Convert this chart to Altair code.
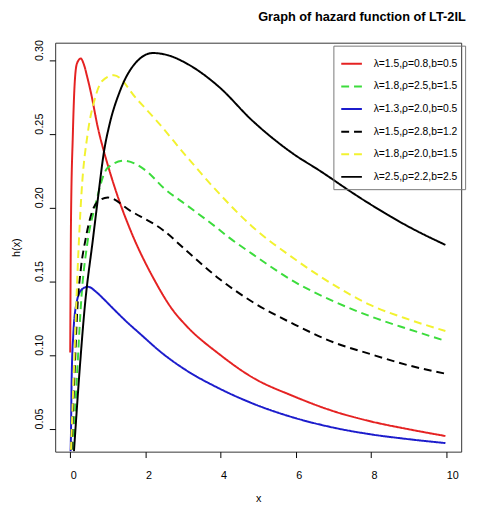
import altair as alt
import pandas as pd

labels = [
    "λ=1.5,ρ=0.8,b=0.5",
    "λ=1.8,ρ=2.5,b=1.5",
    "λ=1.3,ρ=2.0,b=0.5",
    "λ=1.5,ρ=2.8,b=1.2",
    "λ=1.8,ρ=2.0,b=1.5",
    "λ=2.5,ρ=2.2,b=2.5",
]
colors = ["#E52222", "#3CDC3C", "#1C1CCC", "#000000", "#F2F230", "#000000"]
dashes = [[1, 0], [8, 5], [1, 0], [8, 5], [8, 5], [1, 0]]

red_x = [0.0, 0.02, 0.07, 0.12, 0.18, 0.28, 0.36, 0.45, 0.56, 0.73, 0.91, 1.0, 1.26, 1.6, 2.22, 2.72, 3.09, 3.96, 4.83, 5.97, 7.02, 7.98, 9.02, 9.98]
red_y = [0.102, 0.19, 0.25, 0.285, 0.298, 0.3013, 0.2975, 0.289, 0.277, 0.255, 0.237, 0.229, 0.208, 0.185, 0.152, 0.131, 0.12, 0.1009, 0.0853, 0.072, 0.062, 0.0553, 0.0498, 0.0453]

green_x = [0.08, 0.19, 0.3, 0.45, 0.67, 0.99, 1.43, 2.04, 2.48, 3.09, 3.96, 4.22, 4.83, 5.97, 7.02, 7.98, 9.02, 9.98]
green_y = [0.036, 0.091, 0.14, 0.175, 0.202, 0.227, 0.232, 0.2247, 0.2136, 0.202, 0.1853, 0.18, 0.169, 0.1498, 0.1365, 0.1265, 0.1176, 0.1098]

blue_x = [0.01, 0.02, 0.035, 0.08, 0.17, 0.3, 0.47, 0.7, 0.89, 1.15, 1.5, 1.85, 2.46, 3.09, 3.96, 4.83, 5.97, 7.02, 7.98, 9.02, 9.98]
blue_y = [0.035, 0.047, 0.08, 0.1135, 0.1358, 0.1445, 0.1465, 0.1428, 0.1382, 0.1315, 0.1228, 0.1148, 0.1012, 0.0898, 0.0776, 0.0676, 0.0576, 0.0509, 0.0465, 0.0431, 0.0405]

bdash_x = [0.035, 0.12, 0.19, 0.28, 0.41, 0.5, 0.71, 1.0, 1.6, 2.48, 3.09, 3.96, 4.83, 5.97, 7.02, 7.98, 9.02, 9.98]
bdash_y = [0.036, 0.091, 0.132, 0.158, 0.179, 0.19, 0.2036, 0.207, 0.198, 0.1847, 0.171, 0.152, 0.1365, 0.1209, 0.1087, 0.1009, 0.0931, 0.0876]

yellow_x = [0.02, 0.1, 0.2, 0.3, 0.47, 0.65, 0.85, 1.16, 1.78, 2.3, 3.09, 3.96, 4.83, 5.97, 7.02, 7.98, 9.02, 9.98]
yellow_y = [0.036, 0.091, 0.16, 0.21, 0.2513, 0.2735, 0.286, 0.29, 0.2735, 0.259, 0.235, 0.2098, 0.1876, 0.1653, 0.1476, 0.1342, 0.1242, 0.1165]

black_x = [0.1, 0.25, 0.38, 0.61, 0.73, 0.91, 1.04, 1.32, 1.68, 2.2, 2.6, 3.09, 3.96, 4.83, 5.97, 6.62, 7.58, 7.98, 9.02, 9.98]
black_y = [0.035, 0.09, 0.131, 0.18, 0.205, 0.24, 0.256, 0.279, 0.2965, 0.305, 0.3035, 0.298, 0.282, 0.2595, 0.236, 0.2255, 0.209, 0.2025, 0.187, 0.1749]

x_ticks = [0, 2, 4, 6, 8, 10]
y_ticks = [0.05, 0.10, 0.15, 0.20, 0.25, 0.30]

series = [
    (red_x, red_y),
    (green_x, green_y),
    (blue_x, blue_y),
    (bdash_x, bdash_y),
    (yellow_x, yellow_y),
    (black_x, black_y),
]
rows = []
for lab, (xs, ys) in zip(labels, series):
    for xv, yv in zip(xs, ys):
        rows.append({"x": xv, "h": yv, "series": lab})
df = pd.DataFrame(rows)

FONT = "Liberation Sans"

chart = alt.Chart(df).mark_line(strokeWidth=2, interpolate="monotone", clip=True).encode(
    x=alt.X("x:Q", scale=alt.Scale(domain=[-0.4, 10.4], nice=False, zero=False),
            axis=alt.Axis(values=x_ticks, title="x", labelAlign="left", labelPadding=12,
                          titlePadding=13)),
    y=alt.Y("h:Q", scale=alt.Scale(domain=[0.0347, 0.312], nice=False, zero=False),
            axis=alt.Axis(values=y_ticks, format=".2f", title="h(x)", labelAngle=270,
                          labelAlign="left", labelBaseline="alphabetic", labelPadding=7,
                          titlePadding=12)),
    color=alt.Color("series:N", scale=alt.Scale(domain=labels, range=colors), title=None),
    strokeDash=alt.StrokeDash("series:N", scale=alt.Scale(domain=labels, range=dashes), title=None),
).properties(
    width=413,
    height=416,
    padding={"left": 48, "top": 31, "right": 11, "bottom": 52},
    autosize=alt.AutoSizeParams(type="none"),
    title=alt.Title("Graph of hazard function of LT-2IL", anchor="middle", align="left",
                    font=FONT, fontSize=13, fontWeight="bold", color="black",
                    baseline="alphabetic", offset=6, frame="group"),
).configure_view(
    stroke="#333333", strokeWidth=1
).configure_axis(
    domain=False, grid=False, tickColor="black", tickSize=6, tickWidth=1,
    labelFont=FONT, labelFontSize=11, labelColor="black",
    titleFont=FONT, titleFontSize=11, titleFontWeight="normal", titleColor="black",
).configure_legend(
    orient="none", legendX=283, legendY=3, padding=7,
    strokeColor="#777777",
    symbolType="stroke", symbolSize=441, symbolStrokeWidth=2,
    labelFont=FONT, labelFontSize=10.5, labelColor="black", labelOffset=11,
    rowPadding=6, labelLimit=200,
)

chart.save("out.html", embed_options={"renderer": "svg", "actions": False})
